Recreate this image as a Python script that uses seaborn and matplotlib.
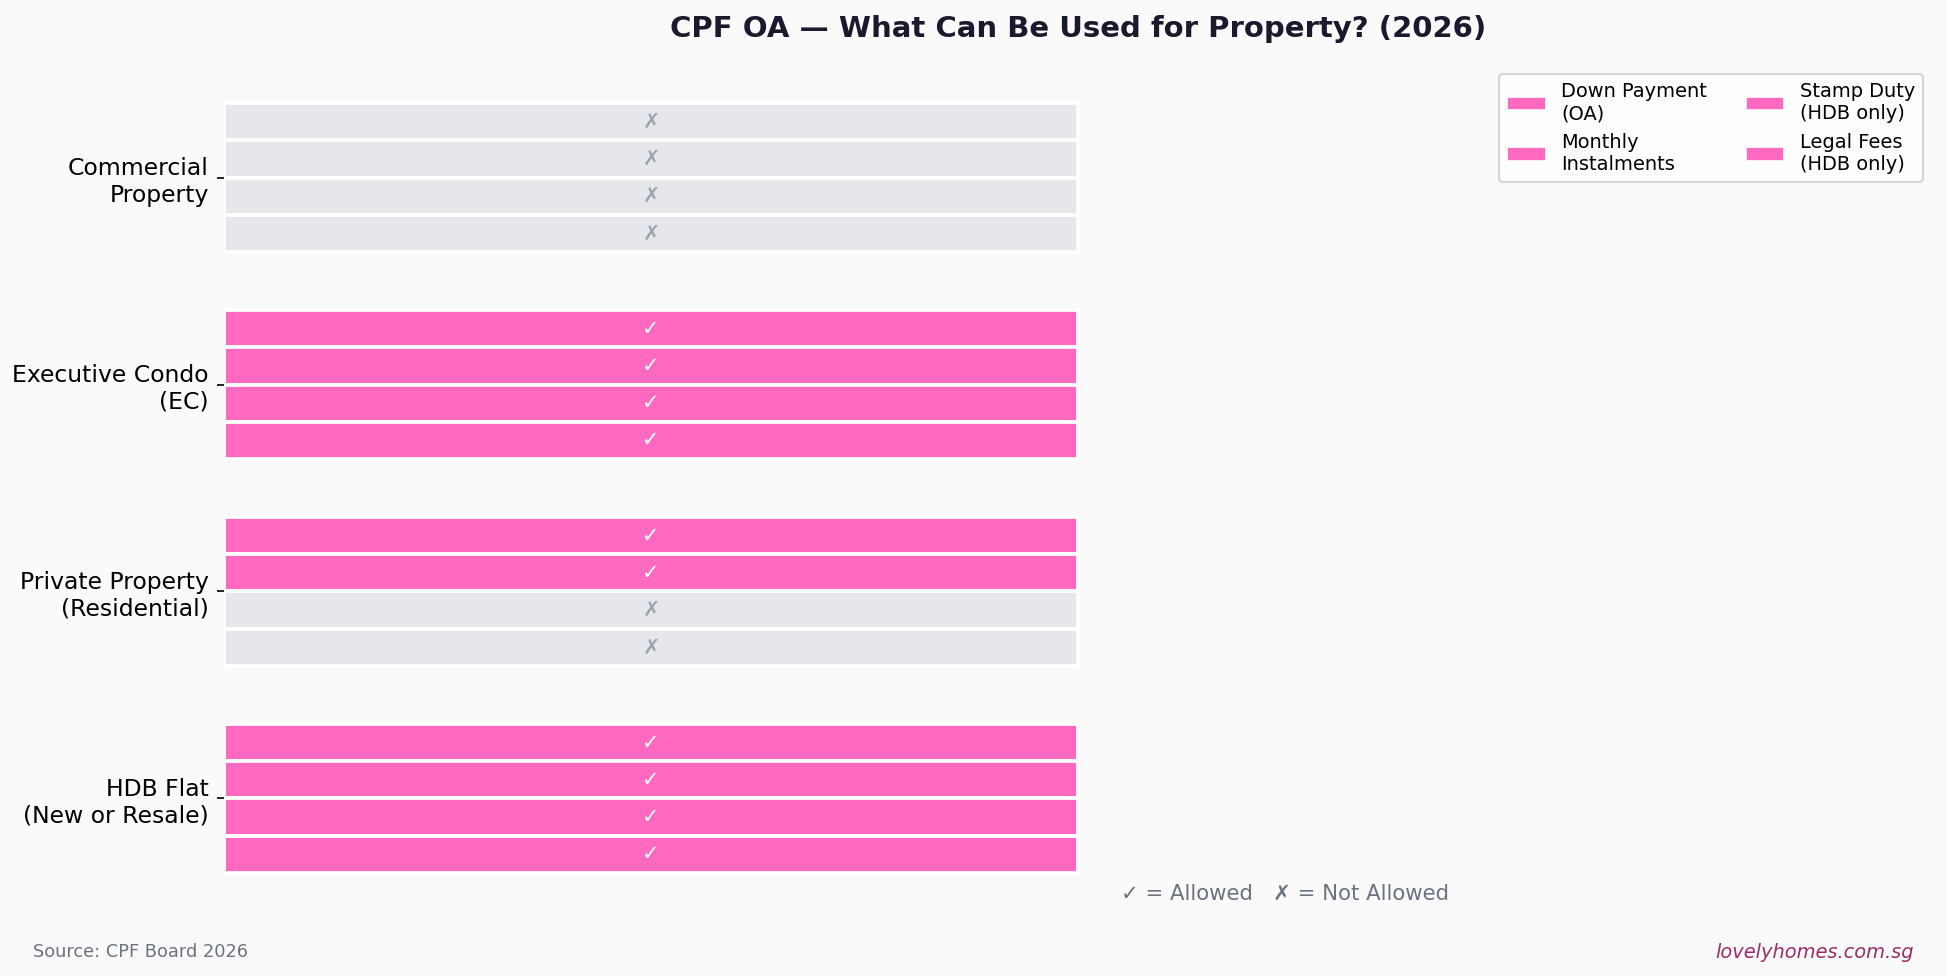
import pandas as pd
import seaborn as sns
import matplotlib.pyplot as plt
from matplotlib.patches import Patch

# Property types, top to bottom as shown
property_types = ["Commercial\nProperty", "Executive Condo\n(EC)",
                  "Private Property\n(Residential)", "HDB Flat\n(New or Resale)"]
uses = ["Down Payment\n(OA)", "Monthly\nInstalments",
        "Stamp Duty\n(HDB only)", "Legal Fees\n(HDB only)"]

# 1 = allowed, 0 = not allowed (one list per use)
down_payment = [0, 1, 1, 1]
monthly = [0, 1, 1, 1]
stamp_duty = [0, 1, 0, 1]
legal_fees = [0, 1, 0, 1]

PINK = "#FF69C0"
GREY = "#E5E7EB"
BG = "#FAFAFA"

rows = []
for use, vals in zip(uses, [down_payment, monthly, stamp_duty, legal_fees]):
    for prop, ok in zip(property_types, vals):
        rows.append({"Property": prop, "Use": use, "Allowed": ok, "Bar": 1})
df = pd.DataFrame(rows)

plt.rcParams["figure.facecolor"] = BG
plt.rcParams["axes.facecolor"] = BG

fig = plt.figure(figsize=(12.98, 6.507), dpi=150)
ax = fig.add_axes([0.1148, 0.0654, 0.878, 0.8692])

sns.barplot(data=df, x="Bar", y="Property", hue="Use", order=property_types,
            hue_order=uses, palette=[PINK] * 4, width=0.72, errorbar=None,
            orient="h", edgecolor="white", linewidth=1.8, legend=False, ax=ax)

# recolour bars and add tick / cross marks
for use, bars in zip(uses, ax.containers):
    sub = df[df["Use"] == use].set_index("Property")
    for prop, bar in zip(property_types, bars):
        ok = sub.loc[prop, "Allowed"]
        bar.set_facecolor(PINK if ok else GREY)
        cy = bar.get_y() + bar.get_height() / 2
        ax.text(0.5, cy, "✓" if ok else "✗", ha="center", va="center",
                fontsize=10, color="white" if ok else "#9CA3AF")

ax.set_xlim(0, 2)
ax.set_ylim(3.55, -0.55)
ax.set_xlabel("")
ax.set_ylabel("")
ax.set_xticks([])
ax.tick_params(axis="y", labelsize=11.25, length=3.5)
for s in ax.spines.values():
    s.set_visible(False)

ax.set_title("CPF OA — What Can Be Used for Property? (2026)", fontsize=14,
             fontweight="bold", color="#1A1A2E", pad=13)

handles = [Patch(facecolor=PINK, edgecolor="white", linewidth=0.8, label=u) for u in uses]
ax.legend(handles=handles, ncol=2, fontsize=9.3, loc="upper right",
          bbox_to_anchor=(0.9877, 0.9237), bbox_transform=fig.transFigure,
          borderaxespad=0, facecolor="white")

ax.text(1.05, 3.46, "✓ = Allowed   ✗ = Not Allowed", ha="left", va="center",
        fontsize=10.2, color="#6B7280")

fig.text(0.0172, 0.0246, "Source: CPF Board 2026", fontsize=8.5, color="#6B7280",
         va="center")
fig.text(0.9827, 0.0246, "lovelyhomes.com.sg", fontsize=9.3, color="#9D2B6B",
         style="italic", ha="right", va="center")

fig.savefig("out.png", dpi=150, facecolor=BG)
